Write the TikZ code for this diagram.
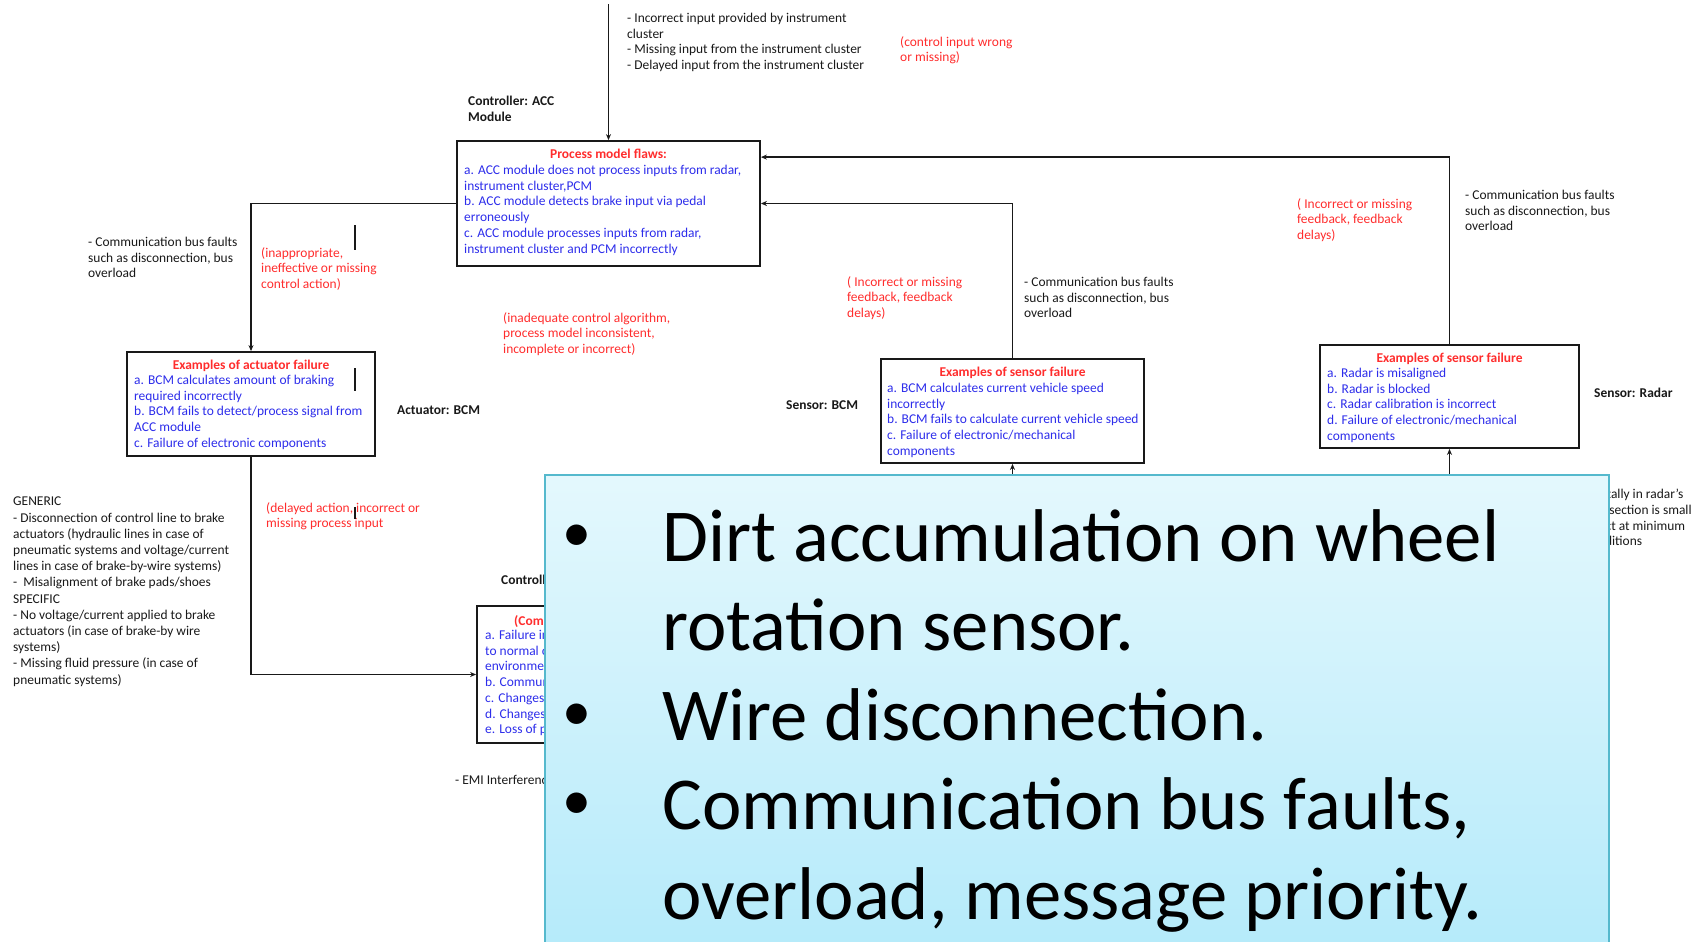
\documentclass[tikz,border=0pt]{standalone}
\usepackage{fontspec}
\setmainfont{Carlito}
\usetikzlibrary{arrows.meta}

\definecolor{inkred}{RGB}{255,45,45}
\definecolor{inkblue}{RGB}{45,45,235}
\definecolor{inkdark}{RGB}{25,25,25}
\definecolor{calltop}{RGB}{228,248,253}
\definecolor{callbot}{RGB}{180,234,250}
\definecolor{callrim}{RGB}{85,185,205}

\newcommand\smallfnt{\fontsize{13.45}{15.7}\selectfont}
\newcommand\bigfnt{\fontsize{74.7}{90}\selectfont}
\newcommand\dotfnt{\fontsize{58}{60}\selectfont}

\tikzset{
  txt/.style={font=\smallfnt, text=inkdark, align=left, inner sep=0pt, anchor=north west, yshift=-2pt},
  redtxt/.style={txt, text=inkred},
  bluetxt/.style={txt, text=inkblue},
  lbl/.style={txt, font=\smallfnt\bfseries},
  head/.style={font=\smallfnt\bfseries, text=inkred, inner sep=0pt, anchor=north, yshift=-1.5pt},
  fbox/.style={draw=inkdark, line width=1.8pt, inner sep=0pt, fill=white},
  conn/.style={draw=inkdark, line width=1.8pt, -{Stealth[length=6pt,width=5pt]}},
  cursorbar/.style={draw=inkdark, line width=1.6pt},
  bigtxt/.style={font=\bigfnt, text=black, inner sep=0pt, anchor=base west},
  bulletdot/.style={font=\dotfnt, text=black, inner sep=0pt, anchor=base west},
}

\begin{document}
\begin{tikzpicture}[x=1pt, y=-1pt]
\useasboundingbox (0,0) rectangle (1701,942);
\fill[white] (0,0) rectangle (1701,942);

% ---------- boxes ----------
\node[fbox, minimum width=303pt, minimum height=125pt] (acc)   at (608.5,203.5) {};
\node[fbox, minimum width=248pt, minimum height=104pt] (act)   at (251,404) {};
\node[fbox, minimum width=263pt, minimum height=104pt] (sbcm)  at (1012.5,411) {};
\node[fbox, minimum width=259pt, minimum height=103pt] (radar) at (1449.5,396.5) {};
\node[fbox, minimum width=290pt, minimum height=137pt] (proc)  at (622,674.5) {};

% ---------- connectors ----------
\coordinate (topin) at ([yshift=136pt]acc.north);
\draw[conn] (topin) -- (acc.north);
\draw[conn] (acc.west) -| (act.north);
\draw[conn] (act.south) |- (proc.west);
\draw[conn] (sbcm.north) |- (acc.east);
\draw[conn] (radar.north) |- ([yshift=-17pt]acc.north east);
\coordinate (sbcmin) at ([yshift=-150pt]sbcm.south);
\coordinate (radarin) at ([yshift=-150pt]radar.south);
\draw[conn] (sbcmin) -- (sbcm.south);
\draw[conn] (radarin) -- (radar.south);

% ---------- controller ----------
\node[txt] (topfaults) at (627,11) {- Incorrect input provided by instrument\\cluster\\- Missing input from the instrument cluster\\- Delayed input from the instrument cluster};
\node[redtxt] (ctlin) at (900,34) {(control input wrong\\or missing)};
\node[lbl] (ctllbl) at (468,94) {Controller: ACC\\Module};
\node[head] (acch) at ([yshift=-7pt]acc.north) {Process model flaws:};
\node[bluetxt] (accl) at (464,163) {a. ACC module does not process inputs from radar,\\instrument cluster,PCM\\b. ACC module detects brake input via pedal\\erroneously\\c. ACC module processes inputs from radar,\\instrument cluster and PCM incorrectly};
\node[redtxt] (algo) at (503,310) {(inadequate control algorithm,\\process model inconsistent,\\incomplete or incorrect)};

% ---------- actuator ----------
\node[txt] (actbus) at (88,235) {- Communication bus faults\\such as disconnection, bus\\overload};
\node[redtxt] (actca) at (261,245) {(inappropriate,\\ineffective or missing\\control action)};
\draw[cursorbar] (355,225) -- (355,250);
\node[head] (acth) at ([yshift=-7pt]act.north) {Examples of actuator failure};
\node[bluetxt] (actl) at (134,373) {a. BCM calculates amount of braking\\required incorrectly\\b. BCM fails to detect/process signal from\\ACC module\\c. Failure of electronic components};
\draw[cursorbar] (355,368) -- (355,391);
\node[lbl] (actlbl) at (397,403) {Actuator: BCM};
\node[redtxt] (actdel) at (266,500) {(delayed action, incorrect or\\missing process input};
\draw[cursorbar] (355,507) -- (355,519);
\node[txt, font=\fontsize{13.45}{16.2}\selectfont] (generic) at (13,495) {GENERIC\\- Disconnection of control line to brake\\actuators (hydraulic lines in case of\\pneumatic systems and voltage/current\\lines in case of brake-by-wire systems)\\-\ \ Misalignment of brake pads/shoes\\SPECIFIC\\- No voltage/current applied to brake\\actuators (in case of brake-by wire\\systems)\\- Missing fluid pressure (in case of\\pneumatic systems)};

% ---------- controlled process ----------
\node[lbl] (proclbl) at (501,573) {Controlled Process};
\node[head, anchor=north west] (proch) at (514,614) {(Component failures)};
\node[bluetxt] (procl) at (485,628) {a. Failure in brakes\\to normal or\\environment\\b. Communication\\c. Changes\\d. Changes\\e. Loss of power};
\node[txt] (emi) at (455,773) {- EMI Interference};

% ---------- sensor: BCM ----------
\node[redtxt] (bcmfb) at (847,274) {( Incorrect or missing\\feedback, feedback\\delays)};
\node[txt] (bcmbus) at (1024,275) {- Communication bus faults\\such as disconnection, bus\\overload};
\node[lbl] (bcmlbl) at (786,398) {Sensor: BCM};
\node[head] (bcmh) at ([yshift=-7pt]sbcm.north) {Examples of sensor failure};
\node[bluetxt] (bcml) at (887,381) {a. BCM calculates current vehicle speed\\incorrectly\\b. BCM fails to calculate current vehicle speed\\c. Failure of electronic/mechanical\\components};

% ---------- sensor: radar ----------
\node[redtxt] (radfb) at (1297,196) {( Incorrect or missing\\feedback, feedback\\delays)};
\node[txt] (radbus) at (1465,188) {- Communication bus faults\\such as disconnection, bus\\overload};
\node[lbl] (radlbl) at (1594,386) {Sensor: Radar};
\node[head] (radh) at ([yshift=-7pt]radar.north) {Examples of sensor failure};
\node[bluetxt] (radl) at (1327,366) {a. Radar is misaligned\\b. Radar is blocked\\c. Radar calibration is incorrect\\d. Failure of electronic/mechanical\\components};
\node[txt] (radenv) at (1557,487) {- Horizontally in radar's\\the cross section is small\\and detect at minimum\\road conditions};

% ---------- callout ----------
\shade[top color=calltop, bottom color=callbot, draw=callrim, line width=1.6pt]
  (545,475) rectangle (1609,960);
\node[bulletdot] (d1) at (562,551) {•};
\node[bigtxt] (b1) at (662,561) {Dirt accumulation on wheel};
\node[bigtxt] (b2) at (662,650) {rotation sensor.};
\node[bulletdot] (d2) at (562,730) {•};
\node[bigtxt] (b3) at (662,740) {Wire disconnection.};
\node[bulletdot] (d3) at (562,819) {•};
\node[bigtxt] (b4) at (662,829) {Communication bus faults,};
\node[bigtxt] (b5) at (662,919) {overload, message priority.};
\end{tikzpicture}
\end{document}
